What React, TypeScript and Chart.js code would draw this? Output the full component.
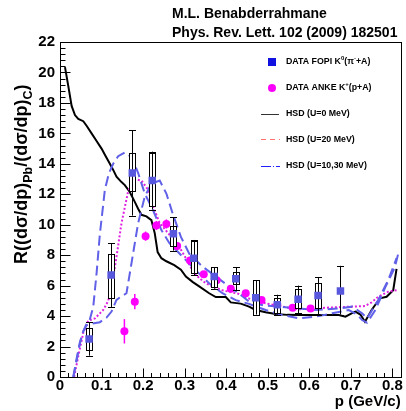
import React, { useEffect, useRef } from 'react';
import { Chart, registerables } from 'chart.js';

Chart.register(...registerables);

// ---------- data ----------
const FOPI_X = [0.070, 0.123, 0.174, 0.222, 0.273, 0.322, 0.371, 0.423, 0.471, 0.523, 0.573, 0.621, 0.675];
const FOPI_Y = [2.5, 6.7, 13.4, 12.9, 9.4, 7.8, 6.6, 6.45, 5.2, 4.75, 5.1, 5.35, 5.65];
const FOPI_ERR_HI = [3.6, 8.8, 16.2, 14.8, 10.5, 9.0, 7.2, 7.2, 6.35, 5.4, 6.0, 6.55, 7.3];
const FOPI_ERR_LO = [1.4, 4.6, 10.6, 11.0, 8.3, 6.7, 5.8, 5.7, 4.1, 4.1, 4.2, 4.1, 4.1];
const FOPI_SYS_HI = [3.2, 8.1, 14.7, 14.7, 9.9, 8.9, 7.2, 6.9, 6.35, 5.2, 5.8, 6.2, null];
const FOPI_SYS_LO = [1.8, 5.2, 12.2, 11.2, 8.6, 6.8, 5.9, 6.1, 4.1, 4.2, 4.5, 4.5, null];

const ANKE_X = [0.155, 0.180, 0.206, 0.232, 0.256, 0.282, 0.313, 0.346, 0.377, 0.411, 0.447, 0.485, 0.523, 0.560, 0.603];
const ANKE_Y = [3.0, 4.95, 9.25, 9.95, 10.05, 8.6, 7.65, 6.75, 6.35, 5.8, 5.5, 5.05, 4.75, 4.55, 4.5];
const ANKE_ERR = [0.8, 0.5, 0.3, 0.3, 0.3, 0.25, 0.25, 0.2, 0.2, 0.2, 0.2, 0.2, 0.2, 0.2, 0.2];

const HSD0_X = [0.012, 0.020, 0.028, 0.036, 0.044, 0.056, 0.064, 0.076, 0.088, 0.100, 0.108, 0.120, 0.128, 0.136, 0.148, 0.156, 0.168, 0.180, 0.188, 0.196, 0.208, 0.220, 0.228, 0.235, 0.244, 0.256, 0.275, 0.291, 0.303, 0.319, 0.335, 0.359, 0.375, 0.399, 0.411, 0.435, 0.455, 0.471, 0.495, 0.519, 0.547, 0.575, 0.623, 0.671, 0.687, 0.703, 0.711, 0.723, 0.734, 0.750, 0.770, 0.786, 0.802, 0.810];
const HSD0_Y = [20.35, 19.1, 17.8, 17.2, 16.95, 16.8, 16.5, 16.0, 15.5, 15.0, 14.6, 14.0, 13.6, 13.15, 12.8, 12.6, 12.15, 11.5, 11.05, 10.65, 10.55, 10.3, 9.45, 8.2, 7.8, 7.6, 7.35, 7.05, 6.6, 6.25, 5.95, 5.5, 5.25, 5.25, 4.9, 4.82, 4.62, 4.4, 4.25, 4.14, 4.08, 4.07, 4.07, 4.07, 3.96, 4.2, 4.3, 4.1, 3.63, 4.4, 5.17, 5.27, 5.7, 7.1];

const HSD20_X = [0.034, 0.045, 0.056, 0.068, 0.084, 0.104, 0.116, 0.124, 0.136, 0.148, 0.164, 0.180, 0.196, 0.212, 0.224, 0.240, 0.268, 0.287, 0.303, 0.319, 0.335, 0.351, 0.371, 0.391, 0.431, 0.455, 0.495, 0.535, 0.575, 0.615, 0.655, 0.703, 0.734, 0.750, 0.766, 0.790, 0.810];
const HSD20_Y = [0, 1.5, 2.9, 3.7, 3.85, 4.4, 5.0, 5.9, 7.9, 10.1, 12.2, 13.0, 12.9, 12.3, 11.2, 10.1, 9.2, 8.55, 7.8, 7.0, 6.5, 6.15, 5.9, 5.7, 5.45, 5.15, 4.84, 4.62, 4.45, 4.5, 4.57, 4.62, 4.66, 4.9, 5.27, 5.6, 5.7];

const HSD10_X = [0.032, 0.040, 0.048, 0.056, 0.064, 0.072, 0.080, 0.088, 0.096, 0.108, 0.118, 0.128, 0.140, 0.156, 0.172, 0.188, 0.204, 0.224, 0.244, 0.263, 0.295, 0.327, 0.359, 0.391, 0.423, 0.455, 0.495, 0.535, 0.575, 0.615, 0.655, 0.695, 0.715, 0.727, 0.739, 0.759, 0.783, 0.806, 0.814];
const HSD10_Y = [0, 1.2, 2.3, 3.0, 3.5, 3.8, 4.6, 6.8, 9.4, 12.3, 13.4, 14.0, 14.5, 14.75, 14.45, 13.4, 12.05, 10.95, 9.65, 8.8, 7.9, 7.0, 6.15, 5.5, 5.05, 4.8, 4.4, 4.07, 3.85, 3.96, 4.18, 4.4, 4.1, 3.74, 3.57, 4.4, 5.9, 7.2, 8.1];

const HSD30_X = [0.032, 0.040, 0.048, 0.056, 0.064, 0.076, 0.096, 0.112, 0.124, 0.136, 0.148, 0.160, 0.172, 0.188, 0.204, 0.220, 0.240, 0.256, 0.271, 0.291, 0.311, 0.343, 0.375, 0.407, 0.439, 0.455, 0.491, 0.527, 0.575, 0.615, 0.671, 0.703, 0.727, 0.739, 0.766, 0.790, 0.810];
const HSD30_Y = [0, 1.1, 2.2, 3.0, 3.4, 3.5, 3.6, 3.9, 4.3, 5.06, 5.3, 5.5, 7.46, 10.1, 11.85, 12.7, 12.9, 12.05, 10.75, 9.2, 8.1, 7.25, 6.6, 5.95, 5.3, 4.95, 4.7, 4.62, 4.5, 4.4, 4.5, 4.62, 4.18, 3.85, 5.06, 6.37, 7.8];

const X_TICKS = [0, 0.1, 0.2, 0.3, 0.4, 0.5, 0.6, 0.7, 0.8];
const Y_TICKS = [0, 2, 4, 6, 8, 10, 12, 14, 16, 18, 20, 22];
const X_MIN = 0, X_MAX = 0.82, Y_MIN = 0, Y_MAX = 22;

const TITLE_LINES = ['M.L. Benabderrahmane', 'Phys. Rev. Lett. 102 (2009) 182501'];
const X_TITLE = 'p (GeV/c)';

const FAMILY = '"Liberation Sans", Arial, Helvetica, sans-serif';
const BLUE_PTS = 'rgb(88,88,222)';
const BLUE_LINE = 'rgb(96,96,232)';
const MAGENTA = '#ff00ff';

type Part = { t: string; sup?: boolean; sub?: boolean };

function drawRich(ctx: CanvasRenderingContext2D, x: number, y: number, parts: Part[], size: number, small: number, supOff: number, subOff: number) {
  let cx = x;
  for (const p of parts) {
    const s = p.sup || p.sub ? small : size;
    ctx.font = `bold ${s}px ${FAMILY}`;
    const dy = p.sup ? -supOff : p.sub ? subOff : 0;
    ctx.fillText(p.t, cx, y + dy);
    cx += ctx.measureText(p.t).width;
  }
  return cx - x;
}

const zip = (xs: number[], ys: number[]) => xs.map((x, i) => ({ x, y: ys[i] }));

const errorBarPlugin = {
  id: 'errbars',
  beforeDatasetDraw(chart: any, args: any) {
    const ctx: CanvasRenderingContext2D = chart.ctx;
    const xs = chart.scales.x, ys = chart.scales.y;
    if (args.index === 0) {
      ctx.save();
      ctx.strokeStyle = '#000';
      ctx.lineWidth = 1;
      FOPI_X.forEach((xv, i) => {
        const px = Math.round(xs.getPixelForValue(xv)) + 0.5;
        const hi = ys.getPixelForValue(FOPI_ERR_HI[i]);
        const lo = ys.getPixelForValue(FOPI_ERR_LO[i]);
        const sh = FOPI_SYS_HI[i], sl = FOPI_SYS_LO[i];
        if (sh != null && sl != null) {
          const bt = Math.round(ys.getPixelForValue(sh)) + 0.5;
          const bb = Math.round(ys.getPixelForValue(sl)) + 0.5;
          ctx.fillStyle = '#fff';
          ctx.fillRect(px - 3, bt, 6, bb - bt);
          ctx.strokeRect(px - 3, bt, 6, bb - bt);
        }
        ctx.beginPath();
        ctx.moveTo(px, hi); ctx.lineTo(px, lo);
        const h = Math.round(hi) + 0.5, l = Math.round(lo) + 0.5;
        ctx.moveTo(px - 3.5, h); ctx.lineTo(px + 3.5, h);
        ctx.moveTo(px - 3.5, l); ctx.lineTo(px + 3.5, l);
        ctx.stroke();
      });
      ctx.restore();
    }
    if (args.index === 1) {
      ctx.save();
      ctx.strokeStyle = MAGENTA;
      ctx.lineWidth = 1.5;
      ANKE_X.forEach((xv, i) => {
        const px = xs.getPixelForValue(xv);
        ctx.beginPath();
        ctx.moveTo(px, ys.getPixelForValue(ANKE_Y[i] + ANKE_ERR[i]));
        ctx.lineTo(px, ys.getPixelForValue(ANKE_Y[i] - ANKE_ERR[i]));
        ctx.stroke();
      });
      ctx.restore();
    }
  },
};

const decorPlugin = {
  id: 'decor',
  afterDraw(chart: any) {
    const ctx: CanvasRenderingContext2D = chart.ctx;
    const { left, right, top, bottom } = chart.chartArea;
    const xs = chart.scales.x, ys = chart.scales.y;
    ctx.save();
    ctx.strokeStyle = '#000';
    ctx.lineWidth = 1;
    const L = Math.round(left) + 0.5, R = Math.round(right) + 0.5, T = Math.round(top) + 0.5, B = Math.round(bottom) + 0.5;
    ctx.strokeRect(L, T, R - L, B - T);
    ctx.beginPath();
    for (let i = 0; i <= 55; i++) {
      const v = i * 0.4;
      const py = Math.round(ys.getPixelForValue(v)) + 0.5;
      const len = i % 5 === 0 ? 10 : 5;
      ctx.moveTo(L, py); ctx.lineTo(L + len, py);
    }
    for (let i = 0; i <= 41; i++) {
      const v = i * 0.02;
      const px = Math.round(xs.getPixelForValue(v)) + 0.5;
      if (px > R - 1) break;
      const len = i % 5 === 0 ? 9 : 4.5;
      ctx.moveTo(px, B); ctx.lineTo(px, B - len);
    }
    ctx.stroke();

    // header text
    ctx.fillStyle = '#000';
    ctx.textAlign = 'left';
    ctx.textBaseline = 'middle';
    ctx.font = `bold 14px ${FAMILY}`;
    ctx.fillText(TITLE_LINES[0], 172, 14);
    ctx.fillText(TITLE_LINES[1], 172, 33);

    // y title
    ctx.save();
    ctx.translate(27, 264);
    ctx.rotate(-Math.PI / 2);
    ctx.textBaseline = 'alphabetic';
    drawRich(ctx, 0, 0, [
      { t: 'R((dσ/dp)' }, { t: 'Pb', sub: true }, { t: '/(dσ/dp)' }, { t: 'C', sub: true }, { t: ')' },
    ], 18, 12.5, 0, 5);
    ctx.restore();

    // legend
    const tx = 286;
    ctx.textBaseline = 'middle';
    ctx.fillStyle = '#1010e0';
    ctx.fillRect(268, 58, 8, 8);
    ctx.fillStyle = MAGENTA;
    ctx.beginPath(); ctx.arc(272, 88, 4, 0, Math.PI * 2); ctx.fill();
    ctx.lineWidth = 1;
    ctx.strokeStyle = '#333';
    ctx.beginPath(); ctx.moveTo(261, 114.5); ctx.lineTo(279, 114.5); ctx.stroke();
    ctx.strokeStyle = '#ff7070';
    ctx.setLineDash([5, 4]);
    ctx.beginPath(); ctx.moveTo(261, 139.5); ctx.lineTo(280, 139.5); ctx.stroke();
    ctx.strokeStyle = '#2020ff';
    ctx.setLineDash([10, 2, 1, 2]);
    ctx.beginPath(); ctx.moveTo(261, 166.5); ctx.lineTo(280, 166.5); ctx.stroke();
    ctx.setLineDash([]);
    ctx.fillStyle = '#000';
    const ls = 8.8, sm = 6;
    drawRich(ctx, tx, 62, [{ t: 'DATA FOPI K' }, { t: '0', sup: true }, { t: '(π' }, { t: '-', sup: true }, { t: '+A)' }], ls, sm, 3.5, 0);
    drawRich(ctx, tx, 88, [{ t: 'DATA ANKE K' }, { t: '+', sup: true }, { t: '(p+A)' }], ls, sm, 3.5, 0);
    drawRich(ctx, tx, 114, [{ t: 'HSD (U=0 MeV)' }], ls, sm, 3.5, 0);
    drawRich(ctx, tx, 139.5, [{ t: 'HSD (U=20 MeV)' }], ls, sm, 3.5, 0);
    drawRich(ctx, tx, 166, [{ t: 'HSD (U=10,30 MeV)' }], ls, sm, 3.5, 0);
    ctx.restore();
  },
};

export default function App() {
  const ref = useRef<HTMLCanvasElement | null>(null);
  useEffect(() => {
    document.body.style.margin = '0';
    const canvas = ref.current!;
    const tickFont = { family: FAMILY, size: 15, weight: 'bold' as const };
    const chart = new Chart(canvas, {
      type: 'scatter',
      data: {
        datasets: [
          { label: 'DATA FOPI', data: zip(FOPI_X, FOPI_Y), pointStyle: 'rect', pointRadius: 5.3, backgroundColor: BLUE_PTS, borderColor: BLUE_PTS, borderWidth: 0, order: 0 } as any,
          { label: 'DATA ANKE', data: zip(ANKE_X, ANKE_Y), pointStyle: 'circle', pointRadius: 4, backgroundColor: MAGENTA, borderColor: MAGENTA, borderWidth: 0, order: 1 },
          { label: 'HSD U=0', data: zip(HSD0_X, HSD0_Y), showLine: true, pointRadius: 0, borderColor: '#000', borderWidth: 2, tension: 0, order: 5 },
          { label: 'HSD U=20', data: zip(HSD20_X, HSD20_Y), showLine: true, pointRadius: 0, borderColor: '#e020e0', borderWidth: 2, borderDash: [2, 2], order: 4 },
          { label: 'HSD U=10', data: zip(HSD10_X, HSD10_Y), showLine: true, pointRadius: 0, borderColor: BLUE_LINE, borderWidth: 2, borderDash: [10, 5], order: 3 },
          { label: 'HSD U=30', data: zip(HSD30_X, HSD30_Y), showLine: true, pointRadius: 0, borderColor: BLUE_LINE, borderWidth: 2, borderDash: [10, 5], order: 2 },
        ],
      },
      options: {
        responsive: false,
        animation: false,
        layout: { padding: { left: 0, right: 3, top: 42, bottom: 0 } },
        plugins: { legend: { display: false }, tooltip: { enabled: false }, title: { display: false } },
        scales: {
          x: {
            type: 'linear', min: X_MIN, max: X_MAX,
            afterFit: (s: any) => { s.height = 34; },
            afterBuildTicks: (s: any) => { s.ticks = X_TICKS.map((v) => ({ value: v })); },
            grid: { display: false, drawTicks: false },
            border: { display: false },
            ticks: { font: tickFont, color: '#000', padding: 0, maxRotation: 0, autoSkip: false, callback: (v: any) => (Number(v) === 0 ? '0' : Number(v).toFixed(1)) },
            title: { display: true, text: X_TITLE, align: 'end', font: tickFont, color: '#000', padding: 0 },
          },
          y: {
            type: 'linear', min: Y_MIN, max: Y_MAX,
            afterFit: (s: any) => { s.width = 60; },
            afterBuildTicks: (s: any) => { s.ticks = Y_TICKS.map((v) => ({ value: v })); },
            grid: { display: false, drawTicks: false },
            border: { display: false },
            ticks: { font: tickFont, color: '#000', padding: 5, autoSkip: false, callback: (v: any) => String(v) },
            title: { display: false },
          },
        },
      },
      plugins: [errorBarPlugin, decorPlugin],
    });
    return () => chart.destroy();
  }, []);
  return (
    <div style={{ position: 'absolute', left: 0, top: 0, width: 406, height: 411, background: '#fff' }}>
      <canvas ref={ref} width={406} height={411} style={{ display: 'block' }} />
    </div>
  );
}
